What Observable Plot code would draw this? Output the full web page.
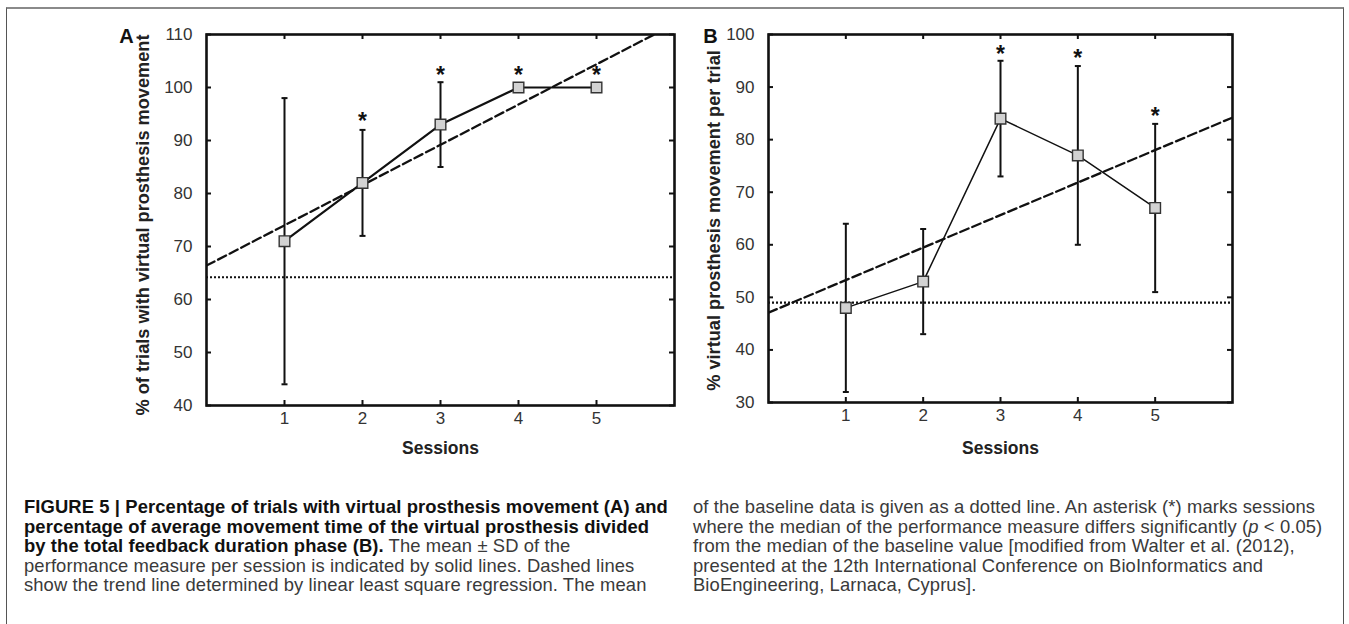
<!DOCTYPE html>
<html><head><meta charset="utf-8">
<script src="https://cdn.jsdelivr.net/npm/d3@7"></script>
<script src="https://cdn.jsdelivr.net/npm/@observablehq/plot@0.6"></script>
<style>
html,body{margin:0;padding:0;background:#fff;width:1349px;height:624px;overflow:hidden;}
#box{position:absolute;left:6px;top:7px;width:1336px;height:700px;border-top:2px solid #8a8a8a;border-left:1.5px solid #555;border-right:1.5px solid #555;}
#pa{position:absolute;left:100px;top:0;}
#pb{position:absolute;left:690px;top:0;}
.cap{position:absolute;top:497px;font-family:"Liberation Sans",Arial,sans-serif;font-size:18.4px;letter-spacing:0.1px;line-height:19.6px;color:#3a3a3a;white-space:nowrap;}
.cap b{color:#111;}
</style></head><body>
<div id="box"></div>
<div id="pa"></div>
<div id="pb"></div>
<div class="cap" style="left:24px;">
<b>FIGURE 5 | Percentage of trials with virtual prosthesis movement (A) and</b><br>
<b>percentage of average movement time of the virtual prosthesis divided</b><br>
<b>by the total feedback duration phase (B).</b> The mean ± SD of the<br>
performance measure per session is indicated by solid lines. Dashed lines<br>
show the trend line determined by linear least square regression. The mean
</div>
<div class="cap" style="left:693px;">
of the baseline data is given as a dotted line. An asterisk (*) marks sessions<br>
where the median of the performance measure differs significantly (<i>p</i> &lt; 0.05)<br>
from the median of the baseline value [modified from Walter et al. (2012),<br>
presented at the 12th International Conference on BioInformatics and<br>
BioEngineering, Larnaca, Cyprus].
</div>
<script>
// ---- data ----
const sessions = [1, 2, 3, 4, 5];
const xTicks = [1, 2, 3, 4, 5];

// Panel A
const meanA = [71, 82, 93, 100, 100];
const lowA = [44, 72, 85, null, null];
const highA = [98, 92, 101, null, null];
const starSessionsA = [2, 3, 4, 5];
const starYA = [94.2, 102.8, 102.8, 102.8];
const trendXA = [0, 5.74];
const trendYA = [66.4, 110];
const baselineA = 64.2;
const yTicksA = [40, 50, 60, 70, 80, 90, 100, 110];
const yLabelA = "% of trials with virtual prosthesis movement";

// Panel B
const meanB = [48, 53, 84, 77, 67];
const lowB = [32, 43, 73, 60, 51];
const highB = [64, 63, 95, 94, 83];
const starSessionsB = [3, 4, 5];
const starYB = [96.8, 96.0, 85.0];
const trendXB = [0, 6];
const trendYB = [47.1, 84.2];
const baselineB = 49.0;
const yTicksB = [30, 40, 50, 60, 70, 80, 90, 100];
const yLabelB = "% virtual prosthesis movement per trial";

const xLabel = "Sessions";

// ---- drawing ----
const capSymbol = {
  draw(context, size) {
    const r = Math.sqrt(size / Math.PI);
    context.moveTo(-r, 0);
    context.lineTo(r, 0);
  }
};

function panel(cfg) {
  const innerW = cfg.width - cfg.ml - cfg.mr;
  const innerH = cfg.height - cfg.mt - cfg.mb;
  const pts = sessions.map((s, i) => ({x: s, y: cfg.mean[i], lo: cfg.low[i], hi: cfg.high[i]}));
  const err = pts.filter(d => d.lo != null);
  const caps = err.flatMap(d => [{x: d.x, y: d.lo}, {x: d.x, y: d.hi}]);
  const stars = cfg.starS.map((s, i) => ({x: s, y: cfg.starY[i]}));
  const trend = cfg.trendX.map((x, i) => ({x, y: cfg.trendY[i]}));
  const tick = 5;
  return Plot.plot({
    width: cfg.width, height: cfg.height,
    marginLeft: cfg.ml, marginRight: cfg.mr, marginTop: cfg.mt, marginBottom: cfg.mb,
    x: {domain: [0, 6]},
    y: {domain: cfg.yDomain},
    style: {fontFamily: "Liberation Sans, Arial, sans-serif", fontSize: "17px", color: "#222", background: "transparent", overflow: "visible"},
    marks: [
      Plot.ruleY([cfg.baseline], {stroke: "#111", strokeWidth: 2.2, strokeDasharray: "2,2"}),
      Plot.line(trend, {x: "x", y: "y", stroke: "#111", strokeWidth: 2.3, strokeDasharray: "9,4", clip: true}),
      Plot.ruleX(err, {x: "x", y1: "lo", y2: "hi", stroke: "#111", strokeWidth: 2}),
      Plot.dot(caps, {x: "x", y: "y", symbol: capSymbol, r: 3, fill: "none", stroke: "#111", strokeWidth: 2}),
      Plot.line(pts, {x: "x", y: "y", stroke: "#111", strokeWidth: cfg.lineW}),
      Plot.dot(pts, {x: "x", y: "y", symbol: "square", r: 6, fill: "#d2d2d2", stroke: "#333", strokeWidth: 1.4}),
      Plot.text(stars, {x: "x", y: "y", text: () => "*", fontSize: 23, fontWeight: "bold", fill: "#111", dy: 3}),
      Plot.frame({stroke: "#111", strokeWidth: 2.6}),
      Plot.tickY(cfg.yTicks, {y: d => d, stroke: "#111", strokeWidth: 2, insetRight: innerW - tick}),
      Plot.tickY(cfg.yTicks, {y: d => d, stroke: "#111", strokeWidth: 2, insetLeft: innerW - tick}),
      Plot.tickX(xTicks, {x: d => d, stroke: "#111", strokeWidth: 2, insetTop: innerH - tick}),
      Plot.tickX(xTicks, {x: d => d, stroke: "#111", strokeWidth: 2, insetBottom: innerH - tick}),
      Plot.axisY({ticks: cfg.yTicks, tickSize: 0, tickPadding: 14, label: null, fontSize: 17, fill: "#333"}),
      Plot.axisX({ticks: xTicks, tickSize: 0, tickPadding: 6, label: null, fontSize: 17, fill: "#333", tickFormat: d => String(d)}),
      Plot.text([cfg.yLabel], {frameAnchor: "left", text: d => d, rotate: -90, textAnchor: "middle", lineAnchor: "middle", dx: cfg.yLabelDx, dy: cfg.yLabelDy, fontSize: 18.2, fontWeight: "bold", fill: "#222"}),
      Plot.text([xLabel], {frameAnchor: "bottom", text: d => d, dy: cfg.xLabelDy, fontSize: 17.5, fontWeight: "bold", fill: "#222", lineAnchor: "middle"}),
      Plot.text([cfg.letter], {frameAnchor: "top-left", text: d => d, dx: cfg.letterDx, dy: 2, fontSize: 20, fontWeight: "bold", fill: "#111", textAnchor: "middle", lineAnchor: "middle"})
    ]
  });
}

document.getElementById("pa").append(panel({
  width: 590, height: 470, ml: 106, mr: 16, mt: 34, mb: 65,
  yDomain: [40, 110],
  mean: meanA, low: lowA, high: highA, starS: starSessionsA, starY: starYA,
  trendX: trendXA, trendY: trendYA, baseline: baselineA, yTicks: yTicksA,
  yLabel: yLabelA, yLabelDx: -63, yLabelDy: 5, xLabelDy: 43, letter: "A", letterDx: -80, lineW: 2.2
}));

document.getElementById("pb").append(panel({
  width: 560, height: 470, ml: 78, mr: 18, mt: 34, mb: 68,
  yDomain: [30, 100],
  mean: meanB, low: lowB, high: highB, starS: starSessionsB, starY: starYB,
  trendX: trendXB, trendY: trendYB, baseline: baselineB, yTicks: yTicksB,
  yLabel: yLabelB, yLabelDx: -54, yLabelDy: 2, xLabelDy: 46, letter: "B", letterDx: -58, lineW: 1.5
}));
</script>
</body></html>
